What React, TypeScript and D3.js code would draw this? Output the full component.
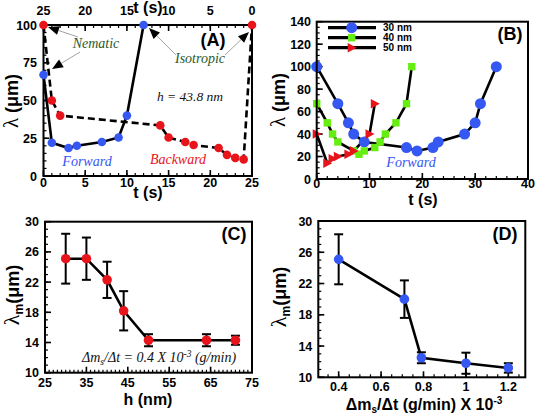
import React from 'react';
import * as d3 from 'd3';

// Panel A data
const aForwardT = [0, 1, 3, 4, 7, 9, 10, 12];
const aForwardL = [67, 22, 18.5, 20, 22.5, 25.5, 40, 100];
const aBackwardT = [0, 1, 2, 14, 15, 17, 18, 21, 22, 23, 24, 25];
const aBackwardL = [100, 50, 40, 33.5, 25.5, 22.5, 20.5, 18.5, 14, 12, 11, 100];
const aXTicks = [0, 5, 10, 15, 20, 25];
const aTopTicks = [25, 20, 15, 10, 5, 0];
const aYTicks = [0, 25, 50, 75, 100];

// Panel B data
const b30T = [0, 4, 6, 7, 9, 17, 19, 22, 23, 28, 30, 31, 34];
const b30L = [100, 67, 50, 40, 33, 28, 25, 28, 33, 40, 50, 67, 100];
const b40T = [0, 2, 3, 4, 7, 8, 9, 11, 12, 13, 15, 17, 18];
const b40L = [67, 50, 40, 33, 25, 22, 25, 28, 33, 40, 50, 67, 100];
const b50T = [0, 2, 3, 4, 6, 7, 10, 11];
const b50L = [40, 14, 18, 20, 22, 25, 40, 67];
const bLegend = ['30 nm', '40 nm', '50 nm'];
const bXTicks = [0, 10, 20, 30, 40];
const bYTicks = [0, 20, 40, 60, 80, 100, 120, 140];

// Panel C data
const cH = [30, 35, 40, 44, 50, 64, 71];
const cLam = [25.1, 25.1, 22.3, 18.2, 14.3, 14.3, 14.3];
const cErr = [3.3, 2.8, 2.4, 2.6, 0.8, 0.8, 0.6];
const cXTicks = [25, 35, 45, 55, 65, 75];
const cYTicks = [10, 14, 18, 22, 26, 30];

// Panel D data
const dRate = [0.4, 0.71, 0.79, 1.0, 1.2];
const dLam = [25.1, 20.0, 12.5, 11.8, 11.2];
const dErr = [3.2, 2.4, 0.7, 1.35, 0.6];
const dXTicks = [0.4, 0.6, 0.8, 1.0, 1.2];
const dXLabels = ['0.4', '0.6', '0.8', '1', '1.2'];
const dYTicks = [10, 14, 18, 22, 26, 30];

const BLUE = '#3557f2';
const RED = '#e8141c';
const GREEN = '#66ee11';
const SANS = 'Liberation Sans, Arial, sans-serif';
const SERIF = 'Liberation Serif, Times New Roman, serif';

function range(a: number, b: number, s: number) {
  const out: number[] = [];
  for (let v = a; v <= b + 1e-9; v += s) out.push(+v.toFixed(6));
  return out;
}

type Sc = d3.ScaleLinear<number, number>;

function XTicks({ x, y0, dir, major, minor, majLen = 6, minLen = 3 }: { x: Sc; y0: number; dir: number; major: number[]; minor: number[]; majLen?: number; minLen?: number }) {
  return (
    <g stroke="#000" strokeWidth={1.2}>
      {minor.map((v, i) => (
        <line key={'m' + i} x1={x(v)} x2={x(v)} y1={y0} y2={y0 + dir * minLen} />
      ))}
      {major.map((v, i) => (
        <line key={'M' + i} x1={x(v)} x2={x(v)} y1={y0} y2={y0 + dir * majLen} strokeWidth={1.6} />
      ))}
    </g>
  );
}

function YTicks({ y, x0, major, minor, majLen = 6, minLen = 3 }: { y: Sc; x0: number; major: number[]; minor: number[]; majLen?: number; minLen?: number }) {
  return (
    <g stroke="#000" strokeWidth={1.2}>
      {minor.map((v, i) => (
        <line key={'m' + i} y1={y(v)} y2={y(v)} x1={x0} x2={x0 + minLen} />
      ))}
      {major.map((v, i) => (
        <line key={'M' + i} y1={y(v)} y2={y(v)} x1={x0} x2={x0 + majLen} strokeWidth={1.6} />
      ))}
    </g>
  );
}

function Arrow({ x1, y1, x2, y2 }: { x1: number; y1: number; x2: number; y2: number }) {
  const ang = Math.atan2(y2 - y1, x2 - x1);
  const L = 11, W = 4.5;
  const bx = x2 - L * Math.cos(ang), by = y2 - L * Math.sin(ang);
  const px = -Math.sin(ang) * W, py = Math.cos(ang) * W;
  return (
    <g>
      <line x1={x1} y1={y1} x2={bx} y2={by} stroke="#999" strokeWidth={0.9} />
      <path d={`M${x2},${y2}L${bx + px},${by + py}L${bx - px},${by - py}Z`} fill="#000" />
    </g>
  );
}

function PanelA() {
  const x = d3.scaleLinear([0, 25], [43.5, 252]);
  const xt = d3.scaleLinear([25, 0], [43.5, 252]);
  const y = d3.scaleLinear([0, 100], [176, 25]);
  const ln = d3.line<[number, number]>().x(d => x(d[0])).y(d => y(d[1]));
  const fPts = aForwardT.map((t, i) => [t, aForwardL[i]] as [number, number]);
  const bPts = aBackwardT.map((t, i) => [t, aBackwardL[i]] as [number, number]);
  return (
    <g>
      <path d={ln(bPts) || ''} fill="none" stroke="#000" strokeWidth={2.6} strokeDasharray="7,4" />
      <path d={ln(fPts) || ''} fill="none" stroke="#000" strokeWidth={2.6} />
      <XTicks x={x} y0={176} dir={-1} major={aXTicks} minor={range(0, 25, 1)} />
      <XTicks x={xt} y0={25} dir={1} major={aTopTicks} minor={range(0, 25, 1)} />
      <YTicks y={y} x0={43.5} major={aYTicks} minor={range(0, 100, 5)} />
      <rect x={43.5} y={25} width={252 - 43.5} height={151} fill="none" stroke="#000" strokeWidth={2} />
      {bPts.map((p, i) => (
        <circle key={'b' + i} cx={x(p[0])} cy={y(p[1])} r={4.3} fill={RED} />
      ))}
      {fPts.map((p, i) => (
        <circle key={'f' + i} cx={x(p[0])} cy={y(p[1])} r={4.3} fill={BLUE} />
      ))}
      <g fontFamily={SANS} fontWeight="bold" fontSize={12.5} textAnchor="middle">
        {aXTicks.map(v => (
          <text key={'x' + v} x={x(v)} y={187}>{v}</text>
        ))}
        {aTopTicks.map(v => (
          <text key={'t' + v} x={xt(v)} y={15}>{v}</text>
        ))}
        {aYTicks.map(v => (
          <text key={'y' + v} x={37} y={y(v) + 4.5} textAnchor="end">{v}</text>
        ))}
      </g>
      <text x={148} y={198} fontFamily={SANS} fontWeight="bold" fontSize={16} textAnchor="middle">t (s)</text>
      <text x={148} y={13} fontFamily={SANS} fontWeight="bold" fontSize={16} textAnchor="middle">t (s)</text>
      <text transform="translate(18,101) rotate(-90)" fontFamily={SANS} fontWeight="bold" fontSize={18} textAnchor="middle">
        <tspan fontWeight="normal" fontFamily={SERIF} fontSize={21}>λ</tspan> (μm)
      </text>
      <text x={213} y={46} fontFamily={SANS} fontWeight="bold" fontSize={18} textAnchor="middle">(A)</text>
      <g fontFamily={SERIF} fontStyle="italic" fontSize={14}>
        <text x={96} y={48} fill="#2b5a2b" textAnchor="middle">Nematic</text>
        <text x={200} y={63} fill="#2b5a2b" textAnchor="middle">Isotropic</text>
        <text x={190} y={101} fill="#111" fontSize={13.5} textAnchor="middle">h = 43.8 nm</text>
        <text x={87} y={166} fill={BLUE} textAnchor="middle">Forward</text>
        <text x={178} y={164} fill={RED} textAnchor="middle">Backward</text>
      </g>
      <Arrow x1={78} y1={37} x2={48} y2={27} />
      <Arrow x1={80} y1={52} x2={52} y2={69} />
      <Arrow x1={176} y1={55} x2={149} y2={28} />
      <Arrow x1={225} y1={55} x2={249} y2={32} />
    </g>
  );
}

function PanelB() {
  const x = d3.scaleLinear([0, 40], [316.7, 528]);
  const y = d3.scaleLinear([0, 140], [179, 21.7]);
  const ln = d3.line<[number, number]>().x(d => x(d[0])).y(d => y(d[1]));
  const p30 = b30T.map((t, i) => [t, b30L[i]] as [number, number]);
  const p40 = b40T.map((t, i) => [t, b40L[i]] as [number, number]);
  const p50 = b50T.map((t, i) => [t, b50L[i]] as [number, number]);
  const circ = (cx: number, cy: number, k: string) => <circle key={k} cx={cx} cy={cy} r={5.5} fill={BLUE} />;
  const sq = (cx: number, cy: number, k: string) => <rect key={k} x={cx - 3.7} y={cy - 3.7} width={7.4} height={7.4} fill={GREEN} />;
  const tri = (cx: number, cy: number, k: string) => (
    <path key={k} d={`M${cx + 5},${cy}L${cx - 4},${cy - 4.8}L${cx - 4},${cy + 4.8}Z`} fill={RED} />
  );
  const markers = [circ, sq, tri];
  return (
    <g>
      <XTicks x={x} y0={179} dir={-1} major={bXTicks} minor={range(0, 40, 2)} />
      <YTicks y={y} x0={316.7} major={bYTicks} minor={range(0, 140, 5)} />
      <path d={ln(p30) || ''} fill="none" stroke="#000" strokeWidth={2.6} />
      <path d={ln(p40) || ''} fill="none" stroke="#000" strokeWidth={2.6} />
      <path d={ln(p50) || ''} fill="none" stroke="#000" strokeWidth={2.6} />
      {p30.map((p, i) => circ(x(p[0]), y(p[1]), 'c' + i))}
      {p40.map((p, i) => sq(x(p[0]), y(p[1]), 's' + i))}
      {p50.map((p, i) => tri(x(p[0]), y(p[1]), 't' + i))}
      <rect x={316.7} y={21.7} width={528 - 316.7} height={179 - 21.7} fill="none" stroke="#000" strokeWidth={2} />
      {bLegend.map((lab, i) => {
        const ly = 27.7 + i * 10;
        return (
          <g key={lab}>
            <line x1={328} x2={376} y1={ly} y2={ly} stroke="#000" strokeWidth={3.2} />
            {markers[i](351.7, ly, 'l' + i)}
            <text x={383} y={ly + 3.6} fontFamily={SANS} fontWeight="bold" fontSize={10}>{lab}</text>
          </g>
        );
      })}
      <g fontFamily={SANS} fontWeight="bold" fontSize={12.5} textAnchor="middle">
        {bXTicks.map(v => (
          <text key={'x' + v} x={x(v)} y={188}>{v}</text>
        ))}
        {bYTicks.map(v => (
          <text key={'y' + v} x={311} y={y(v) + 4.5} textAnchor="end">{v}</text>
        ))}
      </g>
      <text x={423} y={205} fontFamily={SANS} fontWeight="bold" fontSize={16} textAnchor="middle">t (s)</text>
      <text transform="translate(285,100) rotate(-90)" fontFamily={SANS} fontWeight="bold" fontSize={18} textAnchor="middle">
        <tspan fontWeight="normal" fontFamily={SERIF} fontSize={21}>λ</tspan> (μm)
      </text>
      <text x={510} y={40} fontFamily={SANS} fontWeight="bold" fontSize={18} textAnchor="middle">(B)</text>
      <text x={411} y={167} fontFamily={SERIF} fontStyle="italic" fontSize={14} fill={BLUE} textAnchor="middle">Forward</text>
    </g>
  );
}

function ErrPanel({ xs, ys, es, color, x, y, x0, x1, y0, y1, xTicks, xLabels, yTicks, xMinor, yMinor }: any) {
  const ln = d3.line<number>().x((d, i) => x(xs[i])).y(d => y(d));
  return (
    <g>
      <XTicks x={x} y0={y0} dir={-1} major={xTicks} minor={xMinor} />
      <YTicks y={y} x0={x0} major={yTicks} minor={yMinor} />
      <path d={ln(ys) || ''} fill="none" stroke="#000" strokeWidth={2.6} />
      {xs.map((v: number, i: number) => (
        <g key={'e' + i} stroke="#000" strokeWidth={2}>
          <line x1={x(v)} x2={x(v)} y1={y(ys[i] - es[i])} y2={y(ys[i] + es[i])} />
          <line x1={x(v) - 4.5} x2={x(v) + 4.5} y1={y(ys[i] - es[i])} y2={y(ys[i] - es[i])} />
          <line x1={x(v) - 4.5} x2={x(v) + 4.5} y1={y(ys[i] + es[i])} y2={y(ys[i] + es[i])} />
        </g>
      ))}
      {xs.map((v: number, i: number) => (
        <circle key={'c' + i} cx={x(v)} cy={y(ys[i])} r={4.8} fill={color} />
      ))}
      <rect x={x0} y={y1} width={x1 - x0} height={y0 - y1} fill="none" stroke="#000" strokeWidth={2} />
      <g fontFamily={SANS} fontWeight="bold" fontSize={12.5} textAnchor="middle">
        {xTicks.map((v: number, i: number) => (
          <text key={'x' + v} x={x(v)} y={y0 + 14}>{xLabels[i]}</text>
        ))}
        {yTicks.map((v: number) => (
          <text key={'y' + v} x={x0 - 6} y={y(v) + 4.5} textAnchor="end">{v}</text>
        ))}
      </g>
    </g>
  );
}

function LamM({ tx, ty }: { tx: number; ty: number }) {
  return (
    <text transform={`translate(${tx},${ty}) rotate(-90)`} fontFamily={SANS} fontWeight="bold" fontSize={18} textAnchor="middle">
      <tspan fontWeight="normal" fontFamily={SERIF} fontSize={22}>λ</tspan>
      <tspan fontSize={12} dy={4}>m</tspan>
      <tspan dy={-4}>(μm)</tspan>
    </text>
  );
}

function PanelC() {
  const x = d3.scaleLinear([25, 75], [45, 252]);
  const y = d3.scaleLinear([10, 30], [372.7, 221.7]);
  return (
    <g>
      <ErrPanel xs={cH} ys={cLam} es={cErr} color={RED} x={x} y={y} x0={45} x1={252} y0={372.7} y1={221.7}
        xTicks={cXTicks} xLabels={cXTicks.map(String)} yTicks={cYTicks} xMinor={range(25, 75, 1)} yMinor={range(10, 30, 1)} />
      <text x={148} y={405} fontFamily={SANS} fontWeight="bold" fontSize={16} textAnchor="middle">h (nm)</text>
      <LamM tx={19} ty={295} />
      <text x={234} y={240} fontFamily={SANS} fontWeight="bold" fontSize={18} textAnchor="middle">(C)</text>
      <text x={82} y={362} fontFamily={SERIF} fontStyle="italic" fontSize={14} fill="#111">
        Δm<tspan fontSize={9.5} dy={3}>s</tspan><tspan dy={-3}>/Δt  = 0.4 X 10</tspan><tspan fontSize={9.5} dy={-5}>-3</tspan><tspan dy={5}> (g/min)</tspan>
      </text>
    </g>
  );
}

function PanelD() {
  const x = d3.scaleLinear([0.304, 1.28], [318.3, 525.3]);
  const y = d3.scaleLinear([10, 30], [377.3, 221]);
  return (
    <g>
      <ErrPanel xs={dRate} ys={dLam} es={dErr} color={BLUE} x={x} y={y} x0={318.3} x1={525.3} y0={377.3} y1={221}
        xTicks={dXTicks} xLabels={dXLabels} yTicks={dYTicks} xMinor={range(0.35, 1.25, 0.05)} yMinor={range(10, 30, 1)} />
      <text x={424} y={410} fontFamily={SANS} fontWeight="bold" fontSize={16} textAnchor="middle">
        Δm<tspan fontSize={10} dy={3}>s</tspan><tspan dy={-3}>/Δt (g/min) X 10</tspan><tspan fontSize={10} dy={-6}>-3</tspan>
      </text>
      <LamM tx={286} ty={297} />
      <text x={505} y={240} fontFamily={SANS} fontWeight="bold" fontSize={18} textAnchor="middle">(D)</text>
    </g>
  );
}

export default function App() {
  return (
    <div style={{ position: 'absolute', left: 0, top: 0 }}>
      <svg width={536} height={417} style={{ display: 'block', background: '#fff' }}>
        <rect width={536} height={417} fill="#fff" />
        <PanelA />
        <PanelB />
        <PanelC />
        <PanelD />
      </svg>
    </div>
  );
}
